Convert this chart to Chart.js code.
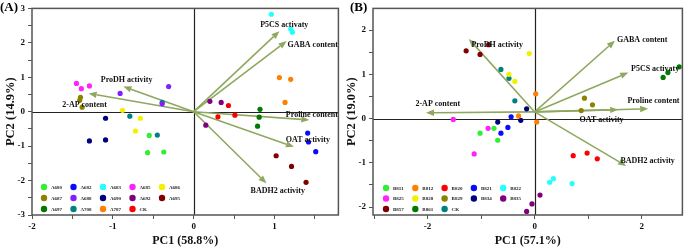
<!DOCTYPE html>
<html>
<head>
<meta charset="utf-8">
<script src="https://cdn.jsdelivr.net/npm/chart.js@4/dist/chart.umd.min.js"></script>
<style>
  html, body { margin:0; padding:0; background:#fff; width:685px; height:248px; overflow:hidden; }
  #wa { position:absolute; left:0; top:0; width:341px; height:248px; }
  #wb { position:absolute; left:341px; top:0; width:344px; height:248px; }
</style>
</head>
<body>
<div id="wa"><canvas id="ca" width="341" height="248"></canvas></div>
<div id="wb"><canvas id="cb" width="344" height="248"></canvas></div>
<script>
// ---------- Panel A data ----------
const genotypesA = ['A680','A682','A683','A685','A686','A687','A688','A690','A692','A695','A697','A708','A787','CK'];
const pc1A = [
  [-0.55,-0.57,-0.37], [1.41,1.42,1.51], [0.96,1.20,1.22], [-1.45,-1.39,-1.29], [-0.88,-0.66,-0.72],
  [-1.40,-1.41,-1.38], [-0.91,-0.31,-0.39], [-1.09,-1.29,-1.09], [0.20,0.34,0.15], [1.02,1.21,1.39],
  [0.82,0.81,0.79], [-0.39,-0.79,-0.45], [1.06,1.20,1.13], [0.43,0.30,0.51]
];
const pc2A = [
  [-0.69,-1.19,-1.17], [-0.62,-0.88,-1.16], [2.83,2.40,2.31], [0.82,0.67,0.75], [0.04,-0.19,-0.56],
  [0.42,0.33,0.13], [0.53,0.73,0.23], [-0.19,-0.85,-0.82], [0.30,0.27,-0.39], [-1.28,-1.59,-2.05],
  [0.07,-0.16,-0.42], [0.27,-0.13,-0.68], [0.99,0.94,0.27], [0.18,-0.15,-0.10]
];
const variablesA = ['P5CS activaty','GABA content','ProDH activity','2-AP content','Proline content','OAT activity','BADH2 activity'];
const loadPc1A = [1.06, 1.15, -0.87, -1.30, 1.43, 1.24, 0.90];
const loadPc2A = [2.34, 2.05, 0.73, 0.53, -0.24, -1.02, -2.08];
const originA = [0, 0];
const xTicksA = [-2,-1.5,-1,-0.5,0,0.5,1,1.5];
const xLabelsA = [-2,-1,0,1];
const yTicksA = [-3,-2.5,-2,-1.5,-1,-0.5,0,0.5,1,1.5,2,2.5,3];
const yLabelsA = [-3,-2,-1,0,1,2,3];

// ---------- Panel B data ----------
const genotypesB = ['B811','B812','B820','B821','B822','B825','B828','B829','B834','B835','B857','B861','CK'];
const pc1B = [
  [-1.02,-0.76,-0.69], [0.02,-0.30,0.04], [0.72,0.98,1.17], [-0.44,-0.50,-0.63], [0.28,0.35,0.70],
  [-1.52,-0.87,-1.13], [-0.10,-0.48,-0.37], [0.93,1.08,0.87], [-0.15,-0.26,-0.69], [0.10,-0.05,-0.15],
  [-1.28,-1.02,-0.86], [2.40,2.49,2.70], [-0.63,-0.48,-0.37]
];
const pc2B = [
  [-0.33,-0.22,-0.49], [0.56,0.06,-0.08], [-0.84,-0.78,-0.91], [0.04,-0.20,-0.33], [-1.44,-1.36,-1.47],
  [-0.02,-0.22,-0.80], [1.47,1.00,0.84], [0.46,0.31,0.18], [0.22,-0.04,-0.08], [-1.73,-1.93,-2.10],
  [1.53,1.45,1.67], [0.93,1.04,1.17], [1.11,0.91,0.40]
];
const variablesB = ['ProDH activity','GABA content','P5CS activaty','Proline content','OAT activity','2-AP content','BADH2 activity'];
const loadPc1B = [-1.23, 1.50, 1.75, 2.12, 1.56, -2.03, 1.71];
const loadPc2B = [1.80, 1.76, 1.04, 0.22, 0.20, 0.13, -1.07];
const originB = [0, 0.15];
const xTicksB = [-3,-2,-1,0,1,2];
const xLabelsB = [-2,0,2];
const yTicksB = [-2,-1.5,-1,-0.5,0,0.5,1,1.5,2];
const yLabelsB = [-2,-1,0,1,2];

// ---------- styles (not data) ----------
const colorsA = ['#33ee33','#0a0aff','#22ffff','#ff22ff','#f2f200','#8c8200','#8020ff','#00007f','#800080','#800000','#007a00','#008080','#ff8000','#ff0000'];
const colorsB = ['#33ee33','#ff8000','#ff0000','#0a0aff','#22ffff','#ff22ff','#f2f200','#8c8200','#00007f','#800080','#800000','#007a00','#008080'];
const labelPlaceA = [
  {x:1.12,y:2.51,a:'center'},{x:1.16,y:1.94,a:'left'},{x:-0.83,y:0.93,a:'center'},{x:-1.35,y:0.19,a:'center'},
  {x:1.14,y:-0.10,a:'left'},{x:1.14,y:-0.82,a:'left'},{x:1.04,y:-2.31,a:'center'}
];
const labelPlaceB = [
  {x:-0.70,y:1.67,a:'center'},{x:2.01,y:1.78,a:'center'},{x:2.25,y:1.13,a:'center'},{x:2.22,y:0.40,a:'center'},
  {x:1.25,y:-0.02,a:'center'},{x:-1.81,y:0.33,a:'center'},{x:2.11,y:-0.96,a:'center'}
];
const ARROW = '#8ea860';
const SERIF = '"Liberation Serif","Times New Roman",serif';

function makeDatasets(names, xs, ys, colors) {
  return names.map((n, i) => ({
    label: n,
    data: xs[i].map((x, j) => ({x: x, y: ys[i][j]})),
    backgroundColor: colors[i],
    borderColor: colors[i],
    borderWidth: 0,
    pointRadius: 2.6,
    pointHoverRadius: 2.6
  }));
}

function biplotPlugin(cfg) {
  return {
    id: 'biplot',
    beforeDatasetsDraw(chart) {
      const {ctx, chartArea: ca, scales: {x, y}} = chart;
      ctx.save();
      // zero lines
      ctx.strokeStyle = '#222';
      ctx.lineWidth = 1.2;
      ctx.beginPath();
      const x0 = Math.round(x.getPixelForValue(0)) + 0.5;
      const y0 = Math.round(y.getPixelForValue(0)) + 0.5;
      ctx.moveTo(x0, ca.top); ctx.lineTo(x0, ca.bottom);
      ctx.moveTo(ca.left, y0); ctx.lineTo(ca.right, y0);
      ctx.stroke();
      // arrows
      const ox = x.getPixelForValue(cfg.origin[0]);
      const oy = y.getPixelForValue(cfg.origin[1]);
      ctx.strokeStyle = ARROW;
      ctx.fillStyle = ARROW;
      ctx.lineWidth = 1.6;
      cfg.lx.forEach((lx, i) => {
        const ex = x.getPixelForValue(lx);
        const ey = y.getPixelForValue(cfg.ly[i]);
        const ang = Math.atan2(ey - oy, ex - ox);
        const L = 8, W = 3.2;
        const bx = ex - L * Math.cos(ang), by = ey - L * Math.sin(ang);
        ctx.beginPath();
        ctx.moveTo(ox, oy); ctx.lineTo(bx, by); ctx.stroke();
        ctx.beginPath();
        ctx.moveTo(ex, ey);
        ctx.lineTo(bx + W * Math.sin(ang), by - W * Math.cos(ang));
        ctx.lineTo(bx - W * Math.sin(ang), by + W * Math.cos(ang));
        ctx.closePath();
        ctx.fill();
      });
      ctx.restore();
    },
    afterDatasetsDraw(chart) {
      const {ctx, chartArea: ca, scales: {x, y}} = chart;
      ctx.save();
      // variable labels
      ctx.fillStyle = '#111';
      ctx.font = 'bold 8px ' + SERIF;
      ctx.textBaseline = 'middle';
      cfg.names.forEach((n, i) => {
        const p = cfg.place[i];
        ctx.textAlign = p.a;
        ctx.fillText(n, x.getPixelForValue(p.x), y.getPixelForValue(p.y));
      });
      // frame
      ctx.strokeStyle = '#555';
      ctx.lineWidth = 1.5;
      ctx.strokeRect(ca.left, ca.top, ca.right - ca.left, ca.bottom - ca.top);
      // legend
      chart.data.datasets.forEach((ds, i) => {
        const col = i % 5, row = Math.floor(i / 5);
        const mx = ca.left + cfg.leg.x0 + col * cfg.leg.dx;
        const my = ca.bottom - cfg.leg.yb + row * cfg.leg.dy;
        ctx.fillStyle = ds.backgroundColor;
        ctx.beginPath();
        ctx.arc(mx, my, 3.2, 0, Math.PI * 2);
        ctx.fill();
        ctx.fillStyle = '#222';
        ctx.font = 'bold 5px ' + SERIF;
        ctx.textAlign = 'left';
        ctx.textBaseline = 'middle';
        ctx.fillText(ds.label, mx + 7, my + 0.5);
      });
      // panel tag
      ctx.fillStyle = '#000';
      ctx.font = 'bold 13px ' + SERIF;
      ctx.textAlign = 'left';
      ctx.textBaseline = 'top';
      ctx.fillText(cfg.tag, cfg.tagX, 1);
      ctx.restore();
    }
  };
}

function axisOpts(ticksArr, labelsArr, min, max, title, horizontal) {
  const o = {
    type: 'linear',
    min: min, max: max,
    afterBuildTicks: s => { s.ticks = ticksArr.map(v => ({value: v})); },
    ticks: {
      autoSkip: false, maxRotation: 0, minRotation: 0,
      color: '#111',
      font: {family: SERIF, size: 9, weight: 'bold'},
      padding: horizontal ? 2 : 3,
      callback: v => labelsArr.includes(v) ? String(v) : ''
    },
    grid: {
      drawOnChartArea: false, drawTicks: true,
      tickLength: 4, tickColor: '#555', tickWidth: 1
    },
    border: {display: false},
    title: {
      display: true, text: title, color: '#111',
      font: {family: SERIF, size: horizontal ? 12 : 12.5, weight: 'bold', lineHeight: 1},
      padding: horizontal ? {top: 0, bottom: 1} : {top: 5, bottom: 0}
    }
  };
  if (horizontal) { o.position = 'bottom'; o.afterFit = s => { s.height = 33; }; }
  else { o.position = 'left'; o.afterFit = s => { s.width = 32; }; }
  return o;
}

function makeChart(id, datasets, xs, ys, plugin, padRight) {
  return new Chart(document.getElementById(id), {
    type: 'scatter',
    data: {datasets: datasets},
    options: {
      responsive: false,
      animation: false,
      devicePixelRatio: 1,
      layout: {padding: {top: 5, right: padRight, left: 0, bottom: 0}},
      plugins: {legend: {display: false}, tooltip: {enabled: false}},
      scales: {x: xs, y: ys}
    },
    plugins: [plugin]
  });
}

makeChart('ca',
  makeDatasets(genotypesA, pc1A, pc2A, colorsA),
  axisOpts(xTicksA, xLabelsA, -2, 1.79, 'PC1 (58.8%)', true),
  axisOpts(yTicksA, yLabelsA, -3, 3, 'PC2 (14.9%)', false),
  biplotPlugin({origin: originA, lx: loadPc1A, ly: loadPc2A, names: variablesA, place: labelPlaceA,
    leg: {x0: 12, dx: 29.5, yb: 28, dy: 11}, tag: '(A)', tagX: 0}),
  1);

makeChart('cb',
  makeDatasets(genotypesB, pc1B, pc2B, colorsB),
  axisOpts(xTicksB, xLabelsB, -3.02, 2.76, 'PC1 (57.1%)', true),
  axisOpts(yTicksB, yLabelsB, -2.18, 2.49, 'PC2 (19.0%)', false),
  biplotPlugin({origin: originB, lx: loadPc1B, ly: loadPc2B, names: variablesB, place: labelPlaceB,
    leg: {x0: 13, dx: 29.3, yb: 27, dy: 10.5}, tag: '(B)', tagX: 9}),
  1);
</script>
</body>
</html>
